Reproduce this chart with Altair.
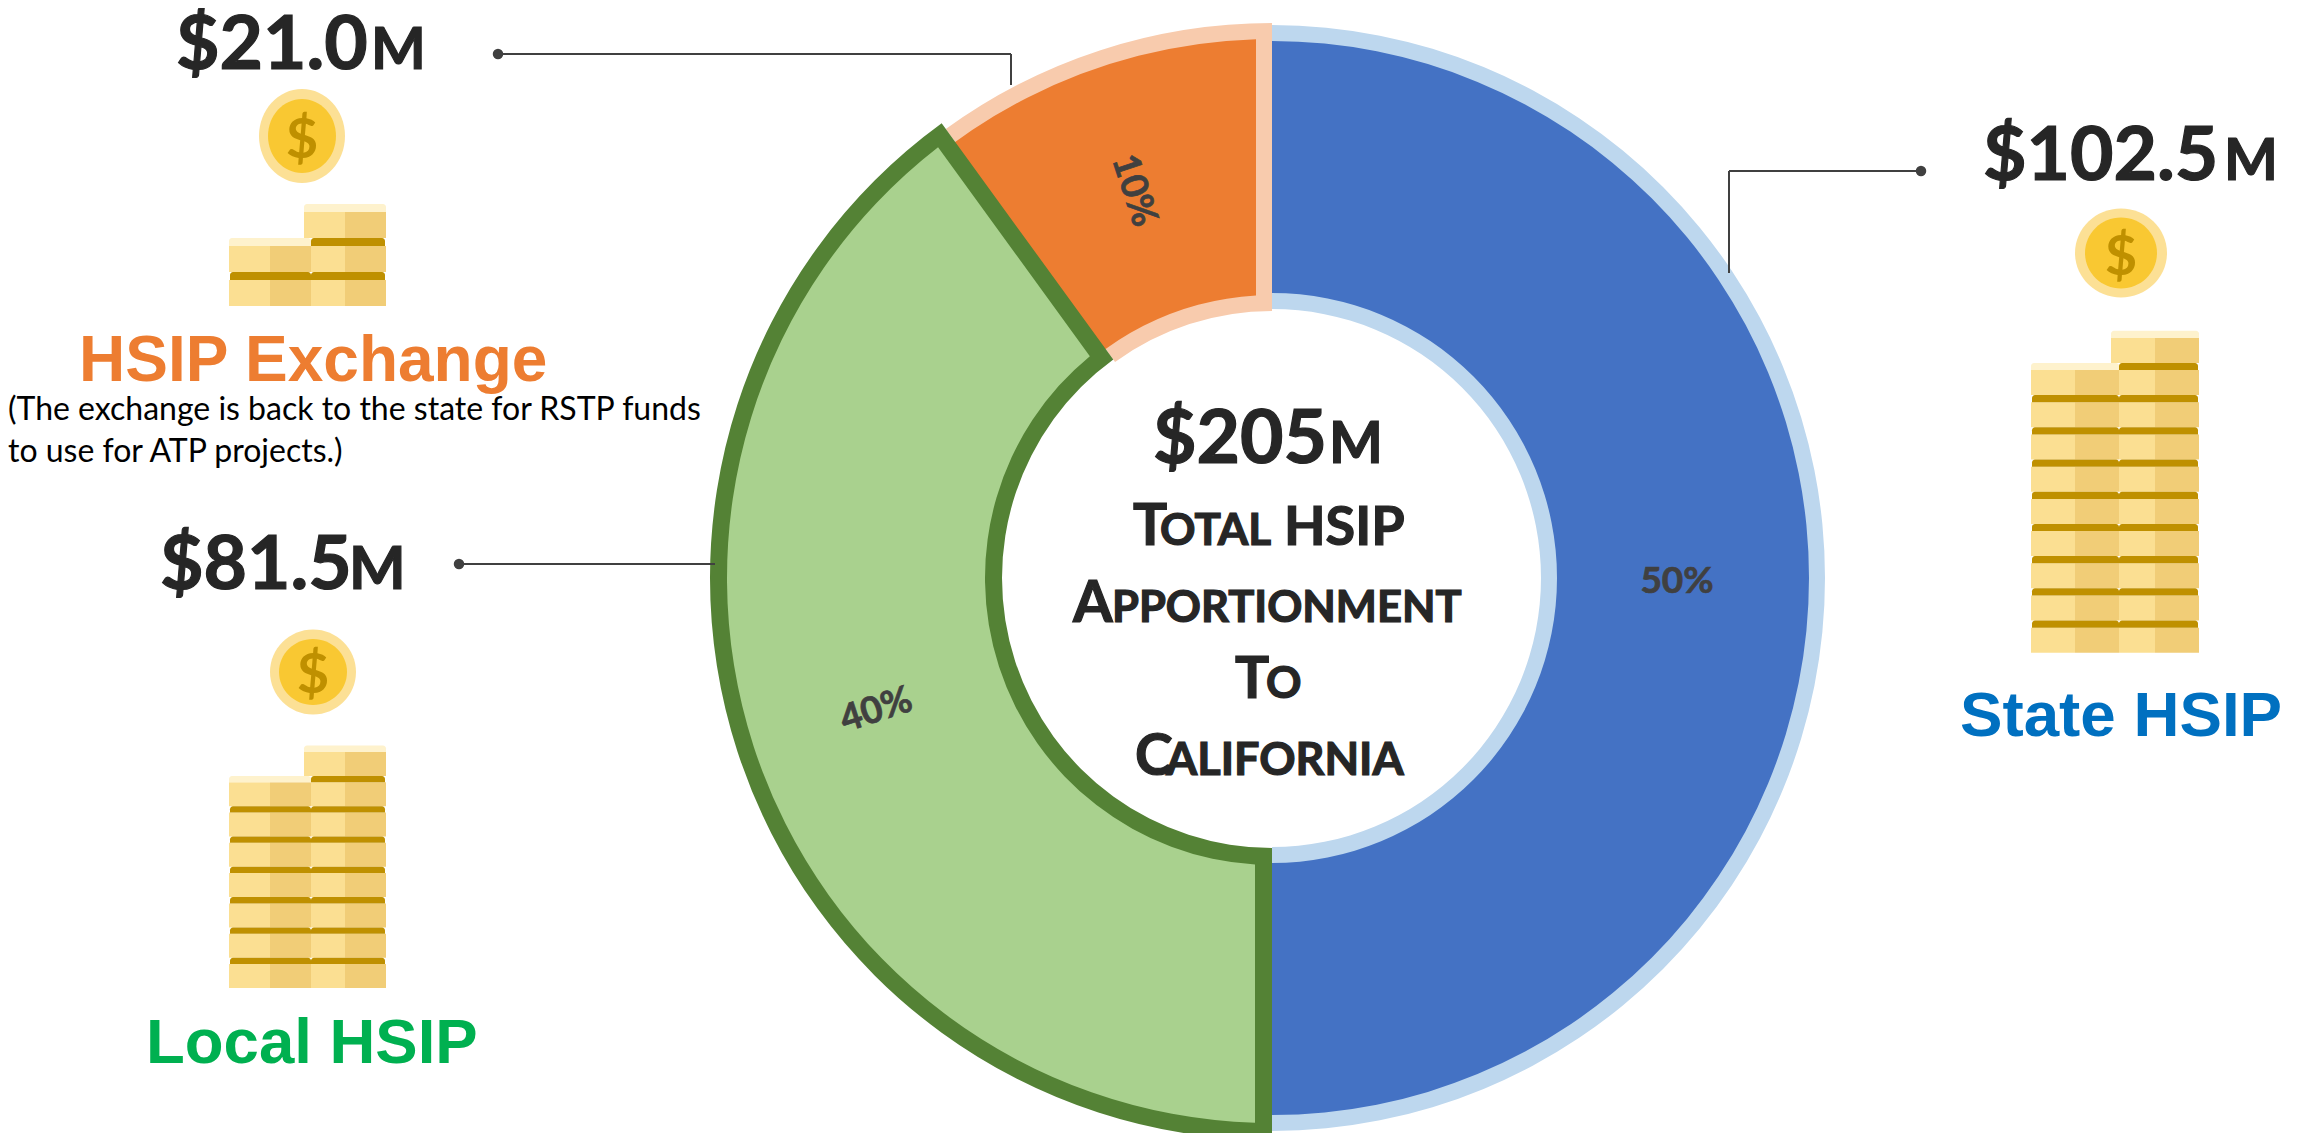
import altair as alt
import pandas as pd

# ---- reference canvas (pixels), chart origin sits at the 8px page margin
M = 8
W, H = 2283, 1125
CX, CY = 1272 - M, 578 - M

# ---- data
names = ["State HSIP", "Local HSIP", "HSIP Exchange"]
shares = [50, 40, 10]
amounts = ["$102.5", "$81.5", "$21.0"]
labels = ["50%", "40%", "10%"]
fill_cols = ["#4472C4", "#A9D18E", "#ED7D31"]
edge_cols = ["#BDD7EE", "#548235", "#F8CBAD"]
ring_outer = [553, 562, 555]
ring_inner = [269, 270, 267]
edge_width = [16, 17, 16]
label_radius = [405, 416, 415]
label_angle = [0, 342, 72]
label_mid = [25, 70, 94.6]

starts = [0, 50, 90]
ends = [50, 90, 100]
slices = pd.DataFrame(dict(name=names, start=starts, end=ends, fill=fill_cols, edge=edge_cols))
theta_scale = alt.Scale(domain=[0, 100])


def band(i):
    row = slices.iloc[[i]]
    return alt.Chart(row).mark_arc(radius=ring_outer[i], radius2=ring_inner[i], color=edge_cols[i]).encode(
        x=alt.value(CX), y=alt.value(CY),
        theta=alt.Theta("start:Q", scale=theta_scale), theta2="end:Q")


def fill(i, start, pad):
    row = slices.iloc[[i]].assign(start=start)
    e = edge_width[i]
    r0, r1 = ring_inner[i] + e, ring_outer[i] - e
    pad_angle = 2 * e / (r0 ** 2 + r1 ** 2) ** 0.5 if pad else 0
    return alt.Chart(row).mark_arc(radius=r1, radius2=r0, color=fill_cols[i], padAngle=pad_angle).encode(
        x=alt.value(CX), y=alt.value(CY),
        theta=alt.Theta("start:Q", scale=theta_scale), theta2="end:Q")


arcs = [band(2), fill(2, 85, True), band(1), fill(1, 50, True), band(0), fill(0, 0, False)]

percent = pd.DataFrame(dict(t=labels, mid=label_mid, r=label_radius, a=label_angle))
percent_layer = alt.Chart(percent).mark_text(
    font="Lato", fontWeight=700, fontSize=37, color="#404040", stroke="#404040", strokeWidth=0.7,
    align="center", baseline="middle"
).encode(x=alt.value(CX), y=alt.value(CY + 4), text="t:N",
         theta=alt.Theta("mid:Q", scale=theta_scale),
         radius=alt.Radius("r:Q", scale=None),
         angle=alt.Angle("a:Q", scale=None))

# ---- leader lines: x, x2, y, y2 in image pixels
leaders = [(498, 1011, 54, 54), (1011, 1011, 54, 85),
           (1729, 1921, 171, 171), (1729, 1729, 171, 273),
           (459, 715, 564, 564)]
dots = [(498, 54), (1921, 171), (459, 564)]
lead_df = pd.DataFrame(leaders, columns=["x", "x2", "y", "y2"]) - M
none = dict(scale=None, axis=None)
lead_layer = alt.Chart(lead_df).mark_rule(color="#404040", strokeWidth=2).encode(
    x=alt.X("x:Q", **none), x2="x2:Q", y=alt.Y("y:Q", **none), y2="y2:Q")
dot_df = pd.DataFrame(dots, columns=["x", "y"]) - M
dot_layer = alt.Chart(dot_df).mark_point(filled=True, size=110, color="#404040", opacity=1, shape="circle").encode(
    x=alt.X("x:Q", **none), y=alt.Y("y:Q", **none))

# ---- coin stacks
LIGHT, DARK, BAND, CREAM = "#FBDF92", "#F1CD77", "#BF9000", "#FEF2CD"
stacks = [
    dict(x=(229, 270, 311, 345, 386), top=304, bottom=306, body=26, period=34.0, right=3, left=2),
    dict(x=(229, 270, 311, 345, 386), top=304, bottom=988, body=24, period=30.3, right=8, left=7),
    dict(x=(2031, 2075, 2119, 2155, 2199), top=2111, bottom=652.7, body=25, period=32.2, right=10, left=9),
]
bodies, caps = [], []
for s in stacks:
    x0, xa, xm, xb, x1 = s["x"]
    first = s["bottom"] - s["body"]
    gap = s["period"] - s["body"]
    for k in range(s["right"]):
        yt = first - k * s["period"]
        last = k == s["right"] - 1
        left_edge = s["top"] if last else xm
        bodies.append((left_edge, xb, yt, yt + s["body"], LIGHT))
        bodies.append((xb, x1, yt, yt + s["body"], DARK))
        caps.append((left_edge if last else xm, x1 - (0 if last else 1), yt - gap, yt, CREAM if last else BAND))
    for k in range(s["left"]):
        yt = first - k * s["period"]
        last = k == s["left"] - 1
        bodies.append((x0, xa, yt, yt + s["body"], LIGHT))
        bodies.append((xa, xm, yt, yt + s["body"], DARK))
        caps.append((x0 + (0 if last else 1), xm, yt - gap, yt, CREAM if last else BAND))


def rect_df(rows):
    d = pd.DataFrame(rows, columns=["x", "x2", "y", "y2", "c"])
    d[["x", "x2", "y", "y2"]] -= M
    return d


def rect_layer(rows, **kw):
    return alt.Chart(rect_df(rows)).mark_rect(**kw).encode(
        x=alt.X("x:Q", **none), x2="x2:Q", y=alt.Y("y:Q", **none), y2="y2:Q",
        color=alt.Color("c:N", scale=None, legend=None))


body_layer = rect_layer(bodies)
cap_layer = rect_layer(caps, cornerRadiusTopLeft=3, cornerRadiusTopRight=3)

# ---- coins: centre x, y, width, height for rim and face
coin_rows = [
    (302, 136, 86, 94, 68, 74),
    (313, 672, 86, 85, 68, 66),
    (2121, 253, 92, 89, 72, 71),
]


def ellipse(w, h):
    a = w / h
    return f"M{-a:.4f},0A{a:.4f},1 0 1,1 {a:.4f},0A{a:.4f},1 0 1,1 {-a:.4f},0Z"


coin_marks = []
for cx, cy, w, h, iw, ih in coin_rows:
    coin_marks.append((cx - M, cy - M, h * h, ellipse(w, h), "#FCE095"))
for cx, cy, w, h, iw, ih in coin_rows:
    coin_marks.append((cx - M, cy - M, ih * ih, ellipse(iw, ih), "#F9C832"))
coin_df = pd.DataFrame(coin_marks, columns=["x", "y", "s", "shape", "c"])
coin_layer = alt.Chart(coin_df).mark_point(filled=True, opacity=1, strokeWidth=0).encode(
    x=alt.X("x:Q", **none), y=alt.Y("y:Q", **none),
    size=alt.Size("s:Q", scale=None, legend=None),
    shape=alt.Shape("shape:N", scale=None, legend=None),
    color=alt.Color("c:N", scale=None, legend=None))

# ---- text runs: text, left x, baseline y, size, colour
INK = "#262626"
bold_runs = [
    (amounts[2], 176, 69, 75, INK), ("M", 371, 69, 58, INK),
    (amounts[1], 160, 589, 75, INK), ("M", 349, 589, 60, INK),
    (amounts[0], 1983, 180, 75, INK), ("M", 2224, 180, 57, INK),
    ("$205", 1153, 463, 75, INK), ("M", 1329, 463, 57, INK),
    ("T", 1133, 545, 57, INK), ("OTAL", 1160, 545, 44, INK), ("HSIP", 1284, 545, 54, INK),
    ("A", 1073, 622, 57, INK), ("PPORTIONMENT", 1112, 622, 43.5, INK),
    ("T", 1235, 698, 57, INK), ("O", 1266, 698, 44, INK),
    ("C", 1135, 775, 57, INK), ("ALIFORNIA", 1166, 775, 45, INK),
]
heading_runs = [
    (names[2], 79, 381, 64, "#ED7D31"),
    (names[1], 146, 1063, 63.5, "#00B050"),
    (names[0], 1960, 736, 63.7, "#0070C0"),
]
note_runs = [
    ("(The exchange is back to the state for RSTP funds", 8, 420, 32, "#000000"),
    ("to use for ATP projects.)", 8, 462, 32, "#000000"),
]
coin_glyphs = [
    ("$", 302, 158, 56, BAND), ("$", 313, 693, 56, BAND), ("$", 2121, 275, 56, BAND),
]


def text_layer(rows, align="left", **kw):
    d = pd.DataFrame(rows, columns=["t", "x", "y", "s", "c"])
    d[["x", "y"]] -= M
    return alt.Chart(d).mark_text(align=align, baseline="alphabetic", **kw).encode(
        x=alt.X("x:Q", **none), y=alt.Y("y:Q", **none), text="t:N",
        size=alt.Size("s:Q", scale=None, legend=None),
        color=alt.Color("c:N", scale=None, legend=None))


layers = [
    *arcs, lead_layer, dot_layer, percent_layer,
    body_layer, cap_layer, coin_layer,
    text_layer(coin_glyphs, align="center", font="Lato", fontWeight=700),
    text_layer(bold_runs, font="Lato", fontWeight=700, stroke=INK, strokeWidth=1.2),
    text_layer(heading_runs, font="Liberation Sans", fontWeight=700),
    text_layer(note_runs, font="Lato", fontWeight=400),
]

chart = alt.layer(*layers).properties(
    width=W, height=H, padding=0, autosize=alt.AutoSizeParams(type="none"), background="#FFFFFF"
).configure_view(stroke=None)

chart.save("out.html", embed_options={"renderer": "svg", "actions": False})
